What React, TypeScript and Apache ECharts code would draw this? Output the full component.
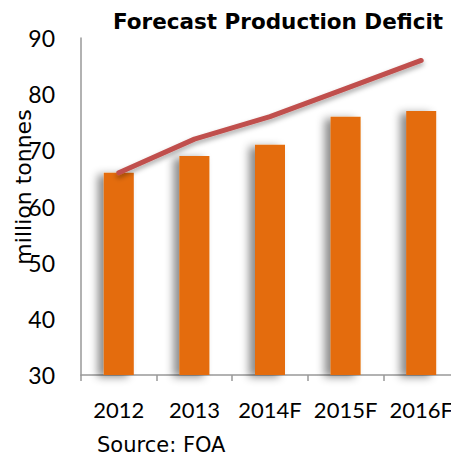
import React, { useEffect, useRef } from "react";
import * as echarts from "echarts";

const categories = ["2012", "2013", "2014F", "2015F", "2016F"];
const barValues = [66, 69, 71, 76, 77];
const lineValues = [66, 72, 76, 81, 86];
const yMin = 30;
const yMax = 90;
const yInterval = 10;

export default function App() {
  const ref = useRef<HTMLDivElement>(null);
  useEffect(() => {
    if (!ref.current) return;
    const chart = echarts.init(ref.current, null, { renderer: "svg" });
    chart.setOption({
      animation: false,
      backgroundColor: "#ffffff",
      title: {
        text: "Forecast Production Deficit",
        left: 108,
        top: 5,
        textStyle: {
          fontFamily: "DejaVu Sans",
          fontWeight: "bold",
          fontSize: 21.5,
          color: "#000000",
        },
      },
      grid: { left: 81, right: -4, top: 38, bottom: 85, containLabel: false },
      xAxis: {
        type: "category",
        data: categories,
        boundaryGap: true,
        axisLine: { lineStyle: { color: "#999999", width: 1.5 } },
        axisTick: { show: true, length: 6, lineStyle: { color: "#999999", width: 1.5 } },
        axisLabel: { interval: 0, fontFamily: "Lato", fontSize: 22, color: "#000000", margin: 23 },
        splitLine: { show: false },
      },
      yAxis: {
        type: "value",
        min: yMin,
        max: yMax,
        interval: yInterval,
        axisLine: { show: true, lineStyle: { color: "#999999", width: 1.5 } },
        axisTick: { show: false },
        axisLabel: { fontFamily: "Lato", fontSize: 23, color: "#000000", margin: 26 },
        splitLine: { show: false },
      },
      graphic: [
        {
          type: "text",
          x: 23,
          y: 187,
          rotation: Math.PI / 2,
          style: {
            text: "million tonnes",
            fontFamily: "DejaVu Sans",
            fontSize: 22,
            fill: "#000000",
            textAlign: "center",
            textVerticalAlign: "middle",
          },
        },
        {
          type: "text",
          x: 97,
          y: 445,
          style: {
            text: "Source: FOA",
            fontFamily: "DejaVu Sans",
            fontSize: 21,
            fill: "#000000",
            textAlign: "left",
            textVerticalAlign: "middle",
          },
        },
      ],
      series: [
        {
          type: "bar",
          data: barValues,
          barWidth: 30,
          itemStyle: {
            color: "#E46C0A",
            shadowColor: "rgba(0,0,0,0.45)",
            shadowBlur: 8,
            shadowOffsetX: -6,
            shadowOffsetY: 2,
          },
          z: 2,
        },
        {
          type: "line",
          data: lineValues,
          symbol: "none",
          lineStyle: {
            color: "#C0504D",
            width: 5,
            cap: "round",
            shadowColor: "rgba(0,0,0,0.35)",
            shadowBlur: 5,
            shadowOffsetY: 3,
          },
          z: 3,
        },
      ],
    });
    return () => chart.dispose();
  }, []);
  return <div ref={ref} style={{ width: 459, height: 460, margin: -8 }} />;
}
